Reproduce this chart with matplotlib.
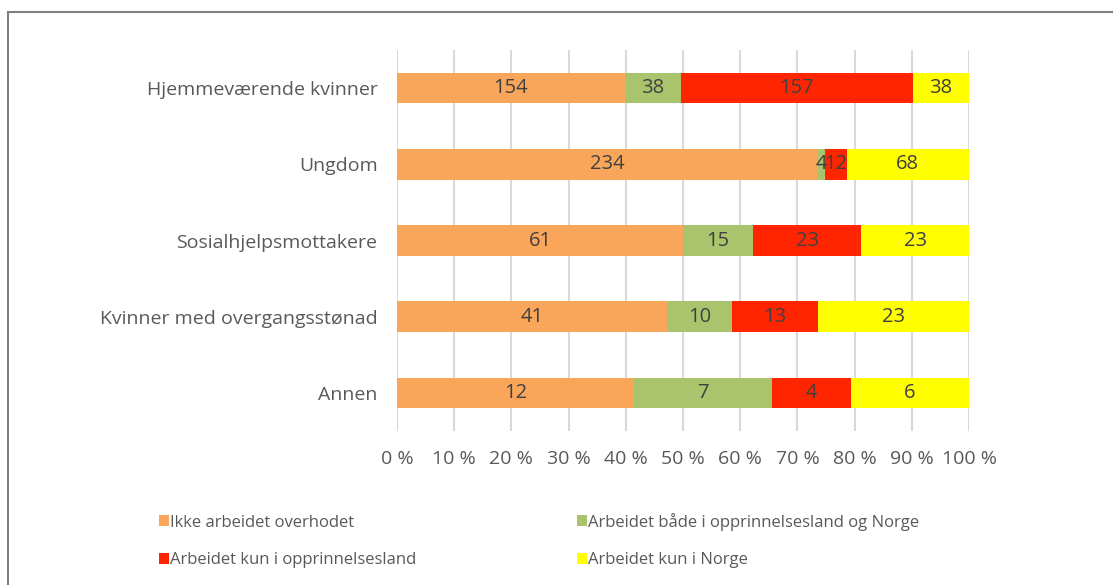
import matplotlib.pyplot as plt
import numpy as np
from matplotlib.patches import Rectangle

categories = ["Hjemmeværende kvinner", "Ungdom", "Sosialhjelpsmottakere",
              "Kvinner med overgangsstønad", "Annen"]
series_names = ["Ikke arbeidet overhodet", "Arbeidet både i opprinnelsesland og Norge",
                "Arbeidet kun i opprinnelsesland", "Arbeidet kun i Norge"]
ikke = [154, 234, 61, 41, 12]
begge = [38, 4, 15, 10, 7]
kun_opprinnelse = [157, 12, 23, 13, 4]
kun_norge = [38, 68, 23, 23, 6]
colors = ["#F9A65A", "#A9C46C", "#FF2500", "#FFFF00"]
tick_labels = ["0 %", "10 %", "20 %", "30 %", "40 %", "50 %", "60 %", "70 %", "80 %", "90 %", "100 %"]

plt.rcParams['font.family'] = ['Open Sans', 'DejaVu Sans']
text_col = "#595959"

fig = plt.figure(figsize=(11.13, 5.85), dpi=100)
ax = fig.add_axes([397 / 1113, (585 - 431) / 585, (969 - 397) / 1113, (431 - 50) / 585])

data = np.array([ikke, begge, kun_opprinnelse, kun_norge], dtype=float)
totals = data.sum(axis=0)
pct = data / totals * 100
y = np.arange(len(categories))
left = np.zeros(len(categories))
bars = []
for i in range(4):
    b = ax.barh(y, pct[i], left=left, height=0.4, color=colors[i], label=series_names[i], zorder=3)
    bars.append(b)
    for j in range(len(categories)):
        ax.text(left[j] + pct[i][j] / 2, y[j], str(int(data[i][j])), ha="center", va="center",
                fontsize=14.5, color="#404040", zorder=4)
    left += pct[i]

ax.set_ylim(4.5, -0.5)
ax.set_xlim(0, 100)
ax.set_xticks(np.arange(0, 101, 10))
ax.set_xticklabels(tick_labels)
ax.set_yticks(y)
ax.set_yticklabels(categories)
ax.tick_params(axis="both", length=0, labelsize=14, colors=text_col)
ax.tick_params(axis="x", pad=14)
ax.tick_params(axis="y", pad=14)
ax.grid(axis="x", color="#D9D9D9", linewidth=1.5, zorder=0)
for s in ax.spines.values():
    s.set_visible(False)

# legend is filled row by row in the original
order = [0, 2, 1, 3]
fig.legend([bars[k] for k in order], [series_names[k] for k in order],
           loc="upper left", bbox_to_anchor=(152 / 1113, 1 - 506 / 585), ncol=2, frameon=False,
           fontsize=12, labelcolor=text_col, handlelength=0.6, handleheight=0.6, handletextpad=0.1,
           columnspacing=9.6, borderaxespad=0, labelspacing=1.3)

fig.patches.append(Rectangle((8 / 1113, -0.1), 1.2, 1 - 12 / 585 + 0.1, transform=fig.transFigure,
                             fill=False, edgecolor="#7F7F7F", linewidth=1.5))

fig.savefig("out.png", dpi=100)
